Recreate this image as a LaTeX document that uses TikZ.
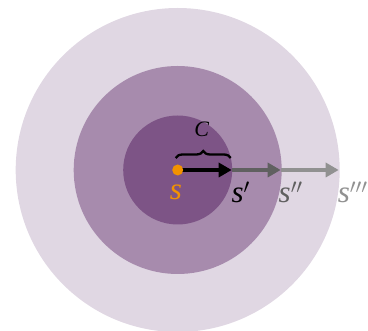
\documentclass[tikz,border=0pt]{standalone}
\usepackage{fontspec}
\setmainfont{Liberation Serif}
\usetikzlibrary{arrows.meta,decorations.pathreplacing}
\definecolor{cin}{RGB}{125,84,134}
\definecolor{cmid}{RGB}{167,139,173}
\definecolor{cout}{RGB}{224,215,227}
\definecolor{corange}{RGB}{243,146,0}
\definecolor{gdark}{RGB}{96,96,96}
\definecolor{glight}{RGB}{145,145,145}
\tikzset{
  lbl/.style={inner sep=0pt,font=\fontsize{31}{36}\selectfont\itshape},
  arr/.style={line width=4pt,-{Triangle[length=13pt,width=14pt]}},
}
\begin{document}
\begin{tikzpicture}[x=1pt,y=1pt]
\useasboundingbox (-177.7,-161) rectangle (190.3,170);
\fill[cout] (0,0) circle (162);
\fill[cmid] (0,0) circle (104);
\fill[cin] (0,0) circle (54.5);
\coordinate (o) at (0,0);
\coordinate (p1) at (54,0);
\coordinate (p2) at (103,0);
\coordinate (p3) at (161,0);
\draw[arr,glight] (p2) -- (p3);
\draw[arr,gdark] (p1) -- (p2);
\draw[arr,black,line width=4.5pt] (o) -- (p1);
\fill[corange] (o) circle (5.5);
\draw[decorate,decoration={brace,amplitude=7pt},line width=2.3pt] (-2,12) -- (53,12);
\node[lbl,font=\fontsize{22}{26}\selectfont\itshape] (c) at (24,41) {C};
\node[lbl,text=corange] (s) at (-1.7,-22) {s};
\node[lbl] (s1) at (63,-22) {s$'$};
\node[lbl,text=gdark] (s2) at (113,-22) {s$''$};
\node[lbl,text=glight] (s3) at (175,-22) {s$'''$};
\end{tikzpicture}
\end{document}
